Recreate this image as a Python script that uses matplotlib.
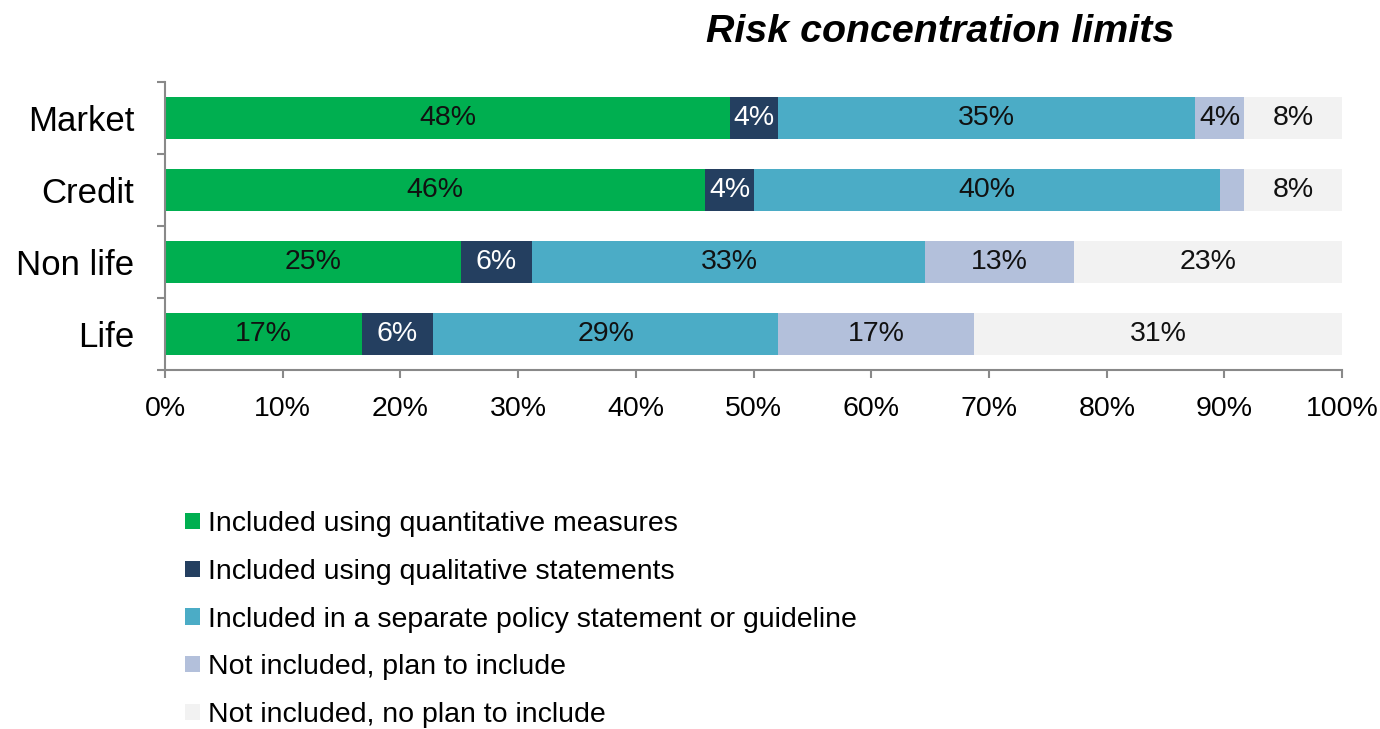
import matplotlib
matplotlib.use("Agg")
import matplotlib.pyplot as plt
import numpy as np

plt.rcParams['font.family'] = ['Liberation Sans', 'DejaVu Sans']

categories = ["Market", "Credit", "Non life", "Life"]
series_names = [
    "Included using quantitative measures",
    "Included using qualitative statements",
    "Included in a separate policy statement or guideline",
    "Not included, plan to include",
    "Not included, no plan to include",
]
quantitative = [48.0, 45.9, 25.1, 16.7]
qualitative = [4.1, 4.1, 6.1, 6.1]
separate_policy = [35.4, 39.6, 33.4, 29.3]
plan_to_include = [4.2, 2.1, 12.6, 16.65]
no_plan = [8.3, 8.3, 22.8, 31.25]
xtick_labels = ["0%", "10%", "20%", "30%", "40%", "50%", "60%", "70%", "80%", "90%", "100%"]

colors = ["#00AF50", "#243F60", "#4BACC6", "#B3C0DB", "#F2F2F2"]
text_colors = ["#111111", "#FFFFFF", "#111111", "#111111", "#111111"]

fig = plt.figure(figsize=(13.8, 7.29), dpi=100)
ax = fig.add_axes([0.1196, 0.4925, 0.853, 0.395])

y = np.arange(len(categories))
left = np.zeros(len(categories))
containers = []
for vals, col, tcol, name in zip(
        [quantitative, qualitative, separate_policy, plan_to_include, no_plan],
        colors, text_colors, series_names):
    vals = np.array(vals)
    bc = ax.barh(y, vals, left=left, height=0.58, color=col, label=name)
    containers.append(bc)
    labels = [f"{round(v)}%" if v >= 3 else "" for v in vals]
    ax.bar_label(bc, labels=labels, label_type='center', color=tcol, fontsize=20.5)
    left = left + vals

ax.set_xlim(0, 100)
ax.set_ylim(3.5, -0.5)
ax.set_xticks(np.arange(0, 101, 10))
ax.set_xticklabels(xtick_labels, fontsize=20.5)
ax.set_yticks(y)
ax.set_yticklabels(categories, fontsize=25)
ax.set_yticks(np.arange(-0.5, 3.6, 1), minor=True)
ax.tick_params(axis='y', which='major', length=0, pad=22)
ax.tick_params(axis='y', which='minor', length=6, width=1.5, color='#898989', direction='out')
ax.tick_params(axis='x', which='major', length=6, width=1.5, color='#898989', direction='out', pad=13)

for s in ['top', 'right']:
    ax.spines[s].set_visible(False)
for s in ['left', 'bottom']:
    ax.spines[s].set_color('#898989')
    ax.spines[s].set_linewidth(1.5)

fig.text(0.681, 0.956, "Risk concentration limits", fontsize=28.4,
         fontweight='bold', fontstyle='italic', ha='center', va='center')

fig.legend(handles=containers, labels=series_names, loc='upper left',
           bbox_to_anchor=(0.1344, 0.2985), frameon=False, fontsize=20.5,
           handlelength=0.5, handleheight=0.5, handletextpad=0.3,
           labelspacing=0.76, borderaxespad=0, borderpad=0)

fig.savefig("out.png", dpi=100)
